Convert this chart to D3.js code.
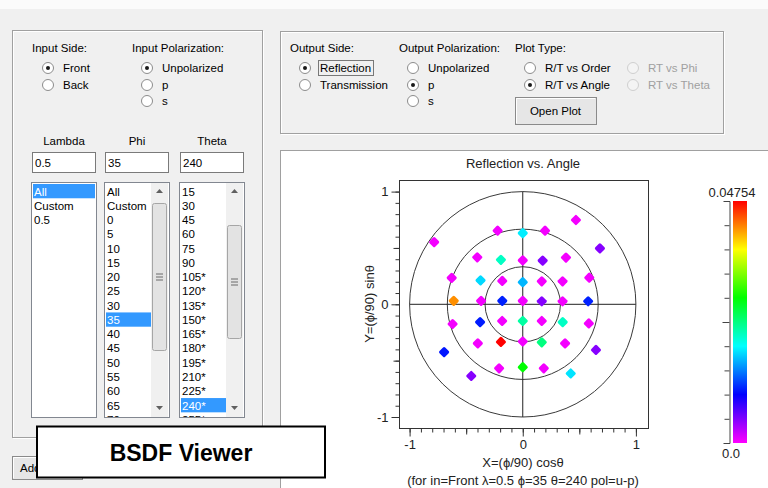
<!DOCTYPE html>
<meta charset="utf-8">
<style>
body { margin: 0; padding: 0; background: #f0f0f0; }
svg { display: block; font-family: "Liberation Sans", Arial, sans-serif; }
.ui { font-size: 11.5px; fill: #000; }
.dis { fill: #a0a0a0; }
.plot text { font-size: 13px; fill: #222; }
</style>
<body>
<svg width="768" height="488"></svg>
<script src="https://cdn.jsdelivr.net/npm/d3@7"></script>
<script>
// ---- data ----
var lambdaItems = ["All", "Custom", "0.5"];
var phiItems = ["All", "Custom", "0", "5", "10", "15", "20", "25", "30", "35", "40", "45", "50", "55", "60", "65", "70"];
var thetaItems = ["15", "30", "45", "60", "75", "90", "105*", "120*", "135*", "150*", "165*", "180*", "195*", "210*", "225*", "240*", "255*"];

// X=(phi/90)cos(theta), Y=(phi/90)sin(theta) of every order, and its reflectance
var ptX = [-0.783, -0.222, 0.000, 0.197, 0.470, 0.682,
           -0.402, -0.193, 0.000, 0.176, 0.382,
           -0.628, -0.373, -0.181, 0.000, 0.168, 0.352, 0.588,
           -0.610, -0.368, -0.181, 0.000, 0.168, 0.352, 0.578,
           -0.620, -0.377, -0.182, 0.000, 0.168, 0.353, 0.584,
           -0.695, -0.397, -0.193, 0.000, 0.168, 0.374, 0.647,
           -0.209, 0.000, 0.186, -0.455, 0.424];
var ptY = [0.552, 0.653, 0.632, 0.653, 0.748, 0.496,
           0.417, 0.395, 0.390, 0.388, 0.415,
           0.234, 0.212, 0.207, 0.196, 0.204, 0.204, 0.236,
           0.030, 0.030, 0.030, 0.030, 0.027, 0.027, 0.027,
           -0.175, -0.158, -0.148, -0.148, -0.148, -0.158, -0.170,
           -0.424, -0.347, -0.334, -0.330, -0.337, -0.347, -0.405,
           -0.568, -0.558, -0.568, -0.636, -0.614];
var ptV = [0.0004, 0.0004, 0.0184, 0.0004, 0.0004, 0.0045,
           0.0004, 0.0212, 0.0004, 0.0045, 0.0004,
           0.0004, 0.0176, 0.0004, 0.0163, 0.0004, 0.0004, 0.0004,
           0.0422, 0.0004, 0.0107, 0.0004, 0.0045, 0.0004, 0.0107,
           0.0004, 0.0105, 0.0004, 0.0225, 0.0004, 0.0212, 0.0004,
           0.0103, 0.0004, 0.04754, 0.0004, 0.0238, 0.0004, 0.0045,
           0.0004, 0.0285, 0.0004, 0.0045, 0.0180];
var vMax = 0.04754;

var axisMajor = [-1, 0, 1];
var ringRadii = [1 / 3, 2 / 3, 1];

var svg = d3.select("svg");

// background + thin white strip on top
svg.append("rect").attr("width", 768).attr("height", 488).attr("fill", "#f0f0f0");
svg.append("rect").attr("width", 768).attr("height", 9).attr("fill", "#fbfbfb");

// etched group box
function groupBox(x, y, w, h) {
    svg.append("rect").attr("x", x + 1.5).attr("y", y + 1.5).attr("width", w).attr("height", h)
        .attr("fill", "none").attr("stroke", "#fff");
    svg.append("rect").attr("x", x + 0.5).attr("y", y + 0.5).attr("width", w).attr("height", h)
        .attr("fill", "none").attr("stroke", "#a0a0a0");
}

function label(x, y, txt, cls) {
    return svg.append("text").attr("class", "ui " + (cls || "")).attr("x", x).attr("y", y).text(txt);
}

function radio(x, y, txt, checked, disabled) {
    svg.append("circle").attr("cx", x).attr("cy", y).attr("r", 5.5)
        .attr("fill", disabled ? "#f4f4f4" : "#fff").attr("stroke", disabled ? "#cfcfcf" : "#8c8c8c");
    if (checked) svg.append("circle").attr("cx", x).attr("cy", y).attr("r", 2).attr("fill", "#1a1a1a");
    label(x + 15, y + 4, txt, disabled ? "dis" : "");
}

function button(x, y, w, h, txt) {
    svg.append("rect").attr("x", x + 0.5).attr("y", y + 0.5).attr("width", w).attr("height", h)
        .attr("fill", "#e6e6e6").attr("stroke", "#8a8a8a");
    svg.append("path").attr("d", "M" + (x + 1.5) + "," + (y + h - 1) + "V" + (y + 1.5) + "H" + (x + w - 1))
        .attr("fill", "none").attr("stroke", "#fff");
    svg.append("text").attr("class", "ui").attr("x", x + w / 2).attr("y", y + h / 2 + 4)
        .attr("text-anchor", "middle").text(txt);
}

// ---- left group ----
groupBox(12, 30, 250, 407);
label(32, 52, "Input Side:");
radio(48, 68, "Front", true);
radio(48, 85, "Back", false);
label(132, 52, "Input Polarization:");
radio(147, 68, "Unpolarized", true);
radio(147, 85, "p", false);
radio(147, 101, "s", false);

var fields = [
    {name: "Lambda", val: "0.5", x: 32, items: lambdaItems, sel: 0, scroll: null},
    {name: "Phi", val: "35", x: 105, items: phiItems, sel: 9, scroll: [203, 350]},
    {name: "Theta", val: "240", x: 180, items: thetaItems, sel: 15, scroll: [225, 338]}
];
var itemH = 14.27;

fields.forEach(function(f) {
    var w = 64;
    svg.append("text").attr("class", "ui").attr("x", f.x + w / 2).attr("y", 145)
        .attr("text-anchor", "middle").text(f.name);
    svg.append("rect").attr("x", f.x + 0.5).attr("y", 152.5).attr("width", w - 1).attr("height", 20)
        .attr("fill", "#fff").attr("stroke", "#7a7a7a");
    svg.append("text").attr("class", "ui").attr("x", f.x + 3).attr("y", 167).text(f.val);

    // list box
    var lb = svg.append("g");
    lb.append("rect").attr("x", f.x - 0.5).attr("y", 182.5).attr("width", w + 1).attr("height", 235)
        .attr("fill", "#fff").attr("stroke", "#828790");
    var clip = "clip" + f.name;
    lb.append("clipPath").attr("id", clip).append("rect")
        .attr("x", f.x).attr("y", 183).attr("width", w).attr("height", 234);
    var innerW = f.scroll ? w - 18 : w - 1;
    var items = lb.append("g").attr("clip-path", "url(#" + clip + ")");
    items.selectAll("rect").data(f.items).enter().filter(function(d, i) { return i === f.sel; })
        .append("rect")
        .attr("x", f.x + 1).attr("y", function() { return 184 + f.sel * itemH; })
        .attr("width", innerW - 1).attr("height", itemH)
        .attr("fill", "#3399ff");
    items.selectAll("text").data(f.items).enter().append("text")
        .attr("class", "ui")
        .attr("x", f.x + 2)
        .attr("y", function(d, i) { return 184 + i * itemH + 11.5; })
        .style("fill", function(d, i) { return i === f.sel ? "#fff" : "#000"; })
        .text(function(d) { return d; });

    if (f.scroll) {
        var sx = f.x + w - 18;
        lb.append("rect").attr("x", sx).attr("y", 183).attr("width", 17).attr("height", 234).attr("fill", "#f0f0f0");
        lb.append("path").attr("d", "M" + (sx + 5) + ",193 L" + (sx + 8.5) + ",189 L" + (sx + 12) + ",193Z").attr("fill", "#606060");
        lb.append("path").attr("d", "M" + (sx + 5) + ",406 L" + (sx + 8.5) + ",410 L" + (sx + 12) + ",406Z").attr("fill", "#606060");
        lb.append("rect").attr("x", sx + 1.5).attr("y", f.scroll[0] + 0.5).attr("width", 14)
            .attr("height", f.scroll[1] - f.scroll[0]).attr("rx", 2)
            .attr("fill", "#e3e3e3").attr("stroke", "#a6a6a6");
        var gy = (f.scroll[0] + f.scroll[1]) / 2;
        [-3, 0, 3].forEach(function(o) {
            lb.append("line").attr("x1", sx + 5).attr("x2", sx + 12).attr("y1", gy + o + 0.5).attr("y2", gy + o + 0.5)
                .attr("stroke", "#6a6a6a");
        });
    }
});

// Add... button partly hidden behind the title box
button(12, 456, 70, 23, "Add...");
d3.select(svg.node().lastChild).attr("x", 20).attr("text-anchor", "start");

// ---- right group ----
groupBox(280, 31, 443, 102);
label(290, 52, "Output Side:");
radio(305, 68, "Reflection", true);
svg.append("rect").attr("x", 318.5).attr("y", 60.5).attr("width", 55).attr("height", 15)
    .attr("fill", "none").attr("stroke", "#000").attr("stroke-dasharray", "1,1");
radio(305, 85, "Transmission", false);
label(399, 52, "Output Polarization:");
radio(413, 68, "Unpolarized", false);
radio(413, 85, "p", true);
radio(413, 101, "s", false);
label(515, 52, "Plot Type:");
radio(530, 68, "R/T vs Order", false);
radio(530, 85, "R/T vs Angle", true);
radio(633, 68, "RT vs Phi", false, true);
radio(633, 85, "RT vs Theta", false, true);
button(515, 97, 81, 27, "Open Plot");

// ---- plot panel ----
svg.append("rect").attr("x", 280.5).attr("y", 150.5).attr("width", 500).attr("height", 350)
    .attr("fill", "#fff").attr("stroke", "#a0a0a0");

var plot = svg.append("g").attr("class", "plot");
plot.append("text").attr("x", 523).attr("y", 168).attr("text-anchor", "middle").text("Reflection vs. Angle");

var x = d3.scaleLinear().domain([-1, 1]).range([409.6, 635.9]);
var y = d3.scaleLinear().domain([-1, 1]).range([417, 191.6]);
var frame = {x0: 399.5, x1: 648.5, y0: 180.5, y1: 428.5};

plot.append("rect").attr("x", frame.x0).attr("y", frame.y0)
    .attr("width", frame.x1 - frame.x0).attr("height", frame.y1 - frame.y0)
    .attr("fill", "none").attr("stroke", "#333");

// axes: minor every 0.1, medium at +-0.5, major with labels
var minor = d3.range(-10, 11).map(function(i) { return i / 10; });
function drawAxis(axisFn, scale, vals, size, labels, tr) {
    var a = axisFn(scale).tickValues(vals).tickSizeInner(size).tickSizeOuter(0).tickPadding(3)
        .tickFormat(labels ? function(d) { return d === -1 ? "-1" : d; } : "");
    var g = plot.append("g").attr("transform", tr).call(a);
    g.select(".domain").remove();
    g.selectAll("line").attr("stroke", "#333");
    g.selectAll("text").style("font-size", "13px").style("fill", "#222").style("font-family", "Liberation Sans, Arial");
}
drawAxis(d3.axisLeft, y, minor, 4, false, "translate(" + frame.x0 + ",0)");
drawAxis(d3.axisLeft, y, [-0.5, 0.5], 6, false, "translate(" + frame.x0 + ",0)");
drawAxis(d3.axisLeft, y, axisMajor, 8, true, "translate(" + frame.x0 + ",0)");
drawAxis(d3.axisBottom, x, minor, 4, false, "translate(0," + frame.y1 + ")");
drawAxis(d3.axisBottom, x, [-0.5, 0.5], 6, false, "translate(0," + frame.y1 + ")");
drawAxis(d3.axisBottom, x, axisMajor, 8, true, "translate(0," + frame.y1 + ")");

// polar grid
plot.selectAll(".ring").data(ringRadii).enter().append("ellipse")
    .attr("cx", x(0)).attr("cy", y(0))
    .attr("rx", function(r) { return x(r) - x(0); })
    .attr("ry", function(r) { return y(0) - y(r); })
    .attr("fill", "none").attr("stroke", "#3a3a3a");
plot.append("line").attr("x1", x(-1)).attr("x2", x(1)).attr("y1", y(0)).attr("y2", y(0)).attr("stroke", "#222");
plot.append("line").attr("x1", x(0)).attr("x2", x(0)).attr("y1", y(-1)).attr("y2", y(1)).attr("stroke", "#222");

// colour map: magenta (0) -> red (max)
function colorOf(v) {
    var t = Math.max(0, Math.min(1, v / vMax));
    return d3.hsl(300 * (1 - t), 1, 0.5).toString();
}

var pts = ptX.map(function(d, i) { return {x: d, y: ptY[i], v: ptV[i]}; });
plot.selectAll(".pt").data(pts).enter().append("rect")
    .attr("class", "pt")
    .attr("x", -4).attr("y", -4).attr("width", 8).attr("height", 8).attr("rx", 1.5)
    .attr("transform", function(d) { return "translate(" + x(d.x) + "," + y(d.y) + ") rotate(45)"; })
    .attr("fill", function(d) { return colorOf(d.v); });

// axis titles
plot.append("text").attr("transform", "translate(374,304) rotate(-90)").attr("text-anchor", "middle")
    .text("Y=(\u03d5/90) sin\u03b8");
plot.append("text").attr("x", 523).attr("y", 467).attr("text-anchor", "middle").text("X=(\u03d5/90) cos\u03b8");
plot.append("text").attr("x", 523).attr("y", 485).attr("text-anchor", "middle")
    .text("(for in=Front \u03bb=0.5 \u03d5=35 \u03b8=240 pol=u-p)");

// colour bar
var cb = d3.scaleLinear().domain([0, vMax]).range([443, 201]);
var grad = svg.append("defs").append("linearGradient").attr("id", "cbar")
    .attr("x1", 0).attr("y1", 1).attr("x2", 0).attr("y2", 0);
grad.selectAll("stop").data(d3.range(0, 1.0001, 0.05)).enter().append("stop")
    .attr("offset", function(d) { return d; })
    .attr("stop-color", function(d) { return colorOf(d * vMax); });
plot.append("rect").attr("x", 733).attr("y", cb(vMax)).attr("width", 14).attr("height", cb(0) - cb(vMax))
    .attr("fill", "url(#cbar)");
var cbTicks = d3.range(0, 11).map(function(i) { return i * vMax / 10; });
var cbAxis = d3.axisLeft(cb).tickValues(cbTicks).tickSizeInner(5).tickSizeOuter(6).tickFormat("");
var cbg = plot.append("g").attr("transform", "translate(729.5,0)").call(cbAxis);
cbg.selectAll("line").attr("stroke", "#444");
cbg.select(".domain").attr("stroke", "#444");
cbg.selectAll(".tick line").filter(function(d, i) { return i === 5; }).attr("x2", -7);
plot.append("text").attr("x", 732).attr("y", 197).attr("text-anchor", "middle").text(vMax);
plot.append("text").attr("x", 731).attr("y", 458).attr("text-anchor", "middle").text("0.0");

// title box
svg.append("rect").attr("x", 37).attr("y", 426.5).attr("width", 288).attr("height", 51)
    .attr("fill", "#fff").attr("stroke", "#000").attr("stroke-width", 2);
svg.append("text").attr("x", 181).attr("y", 461).attr("text-anchor", "middle")
    .style("font-size", "23px").style("font-weight", "bold").text("BSDF Viewer");
</script>
</body>
